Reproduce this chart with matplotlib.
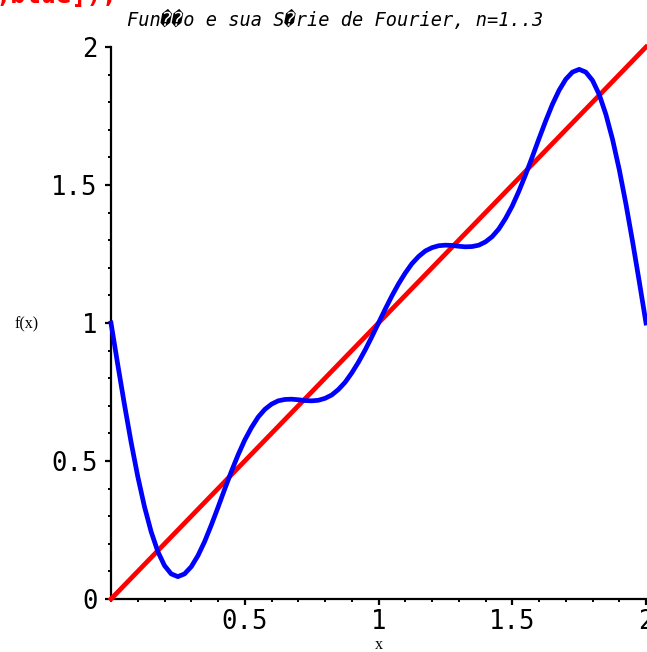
import matplotlib
matplotlib.use("Agg")
import matplotlib.pyplot as plt
from matplotlib.ticker import MultipleLocator, FixedLocator

# f(x) = x, drawn as a straight line
line_x = [0.0, 2.0]
line_y = [0.0, 2.0]

# Fourier series n=1..3, every 0.025
fx = [i * 0.025 for i in range(81)]
fy = [1.000, 0.851, 0.706, 0.569, 0.444, 0.335, 0.244, 0.172, 0.121, 0.091,
      0.081, 0.091, 0.117, 0.157, 0.208, 0.268, 0.332, 0.398, 0.462, 0.522,
      0.576, 0.621, 0.659, 0.687, 0.706, 0.718, 0.723, 0.724, 0.722, 0.719,
      0.718, 0.720, 0.727, 0.739, 0.759, 0.785, 0.819, 0.858, 0.902, 0.950,
      1.000, 1.050, 1.098, 1.142, 1.181, 1.215, 1.241, 1.261, 1.273, 1.280,
      1.282, 1.281, 1.278, 1.276, 1.277, 1.282, 1.294, 1.313, 1.341, 1.379,
      1.424, 1.478, 1.538, 1.602, 1.668, 1.732, 1.792, 1.843, 1.883, 1.909,
      1.919, 1.909, 1.879, 1.828, 1.756, 1.665, 1.556, 1.431, 1.294, 1.149,
      1.000]

xticks = [0.5, 1.0, 1.5, 2.0]
xticklabels = ["0.5", "1", "1.5", "2"]
yticks = [0.0, 0.5, 1.0, 1.5, 2.0]
yticklabels = ["0", "0.5", "1", "1.5", "2"]

W, H = 647, 652
fig = plt.figure(figsize=(W / 100, H / 100), dpi=100)
ax = fig.add_axes([111 / W, 1 - 599 / H, 535 / W, 552 / H])

ax.plot(line_x, line_y, color="#ff0000", lw=3.4, clip_on=False, zorder=3)
ax.plot(fx, fy, color="#0000ff", lw=3.4, clip_on=False, zorder=4,
        solid_joinstyle="round")

ax.set_xlim(0, 2)
ax.set_ylim(0, 2)
for s in ["top", "right"]:
    ax.spines[s].set_visible(False)
for s in ["left", "bottom"]:
    ax.spines[s].set_linewidth(1.6)

ax.xaxis.set_major_locator(FixedLocator(xticks))
ax.set_xticklabels(xticklabels)
ax.set_yticks(yticks)
ax.set_yticklabels(yticklabels)
ax.xaxis.set_minor_locator(MultipleLocator(0.1))
ax.yaxis.set_minor_locator(MultipleLocator(0.1))
ax.tick_params(which="major", length=4.5, width=1.6, direction="out")
ax.tick_params(which="minor", length=2.5, width=1.4, direction="out")
ax.tick_params(axis="x", which="major", pad=2.5)
ax.tick_params(axis="y", which="major", pad=5)
for lab in ax.get_xticklabels() + ax.get_yticklabels():
    lab.set_fontfamily("DejaVu Sans Mono")
    lab.set_fontsize(18.5)

# axis labels (serif, small)
fig.text(27 / W, 1 - 324 / H, "f(x)", family="Liberation Serif", fontsize=11.5,
         ha="center", va="center")
fig.text(379 / W, 1 - 645 / H, "x", family="Liberation Serif", fontsize=11.5,
         ha="center", va="center")

# title
fig.text(335 / W, 1 - 20 / H, "Fun\ufffd\ufffdo e sua S\ufffdrie de Fourier, n=1..3",
         family=["DejaVu Sans Mono", "DejaVu Sans"], style="italic", fontsize=13.4,
         ha="center", va="center")

# clipped leftover of the command line at the top
fig.text(-5 / W, 1 - 3 / H, ",blue]);", family="DejaVu Sans Mono", weight="bold",
         color="#ff0000", fontsize=18.3, ha="left", va="baseline")

fig.savefig("out.png", dpi=100)
